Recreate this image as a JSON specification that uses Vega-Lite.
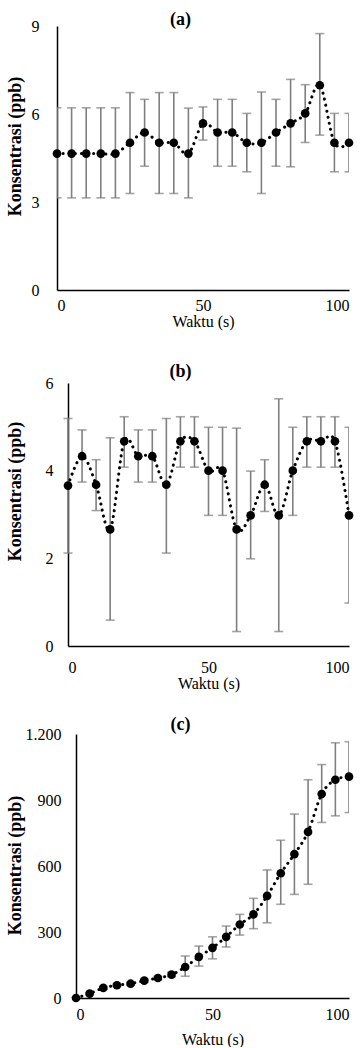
{
  "$schema": "https://vega.github.io/schema/vega-lite/v6.json",
  "padding": {"left": 6, "top": 11, "right": 2, "bottom": 0},
  "spacing": 25,
  "config": {
    "view": {"stroke": null},
    "font": "Liberation Serif",
    "axis": {"grid": false, "ticks": false, "domainColor": "#000", "domainWidth": 1.5, "labelFont": "Liberation Serif", "labelFontSize": 16, "labelColor": "#000", "titleFont": "Liberation Serif", "titleColor": "#000"},
    "axisX": {"titleFontWeight": "normal", "titleFontSize": 16},
    "axisY": {"titleFontWeight": "bold", "titleFontSize": 18},
    "title": {"font": "Liberation Serif", "fontSize": 18, "fontWeight": "bold", "color": "#000", "anchor": "middle", "frame": "bounds"}
  },
  "datasets": {
    "a": [
      {"t": 0, "v": 4.65, "lo": 3.14, "hi": 6.21},
      {"t": 5, "v": 4.65, "lo": 3.14, "hi": 6.21},
      {"t": 10, "v": 4.65, "lo": 3.14, "hi": 6.21},
      {"t": 15, "v": 4.65, "lo": 3.14, "hi": 6.21},
      {"t": 20, "v": 4.65, "lo": 3.14, "hi": 6.21},
      {"t": 25, "v": 5.02, "lo": 3.29, "hi": 6.73},
      {"t": 30, "v": 5.37, "lo": 4.22, "hi": 6.5},
      {"t": 35, "v": 5.02, "lo": 3.29, "hi": 6.73},
      {"t": 40, "v": 5.02, "lo": 3.29, "hi": 6.73},
      {"t": 45, "v": 4.65, "lo": 3.14, "hi": 6.2},
      {"t": 50, "v": 5.68, "lo": 5.11, "hi": 6.24},
      {"t": 55, "v": 5.37, "lo": 4.22, "hi": 6.5},
      {"t": 60, "v": 5.37, "lo": 4.22, "hi": 6.5},
      {"t": 65, "v": 5.02, "lo": 4.03, "hi": 6.02},
      {"t": 70, "v": 5.02, "lo": 3.29, "hi": 6.75},
      {"t": 75, "v": 5.37, "lo": 4.22, "hi": 6.5},
      {"t": 80, "v": 5.68, "lo": 4.2, "hi": 7.18},
      {"t": 85, "v": 6.02, "lo": 5.03, "hi": 7.0},
      {"t": 90, "v": 6.98, "lo": 5.28, "hi": 8.74},
      {"t": 95, "v": 5.02, "lo": 4.03, "hi": 6.02},
      {"t": 100, "v": 5.02, "lo": 4.03, "hi": 6.02}
    ],
    "b": [
      {"t": 0, "v": 3.66, "lo": 2.12, "hi": 5.19},
      {"t": 5, "v": 4.33, "lo": 3.74, "hi": 4.93},
      {"t": 10, "v": 3.68, "lo": 3.09, "hi": 4.25},
      {"t": 15, "v": 2.66, "lo": 0.59, "hi": 4.75},
      {"t": 20, "v": 4.67, "lo": 4.08, "hi": 5.23},
      {"t": 25, "v": 4.33, "lo": 3.74, "hi": 4.93},
      {"t": 30, "v": 4.33, "lo": 3.74, "hi": 4.93},
      {"t": 35, "v": 3.68, "lo": 2.12, "hi": 5.19},
      {"t": 40, "v": 4.67, "lo": 4.08, "hi": 5.23},
      {"t": 45, "v": 4.67, "lo": 4.08, "hi": 5.23},
      {"t": 50, "v": 4.0, "lo": 2.98, "hi": 4.99},
      {"t": 55, "v": 4.0, "lo": 2.98, "hi": 4.99},
      {"t": 60, "v": 2.66, "lo": 0.33, "hi": 4.97},
      {"t": 65, "v": 2.98, "lo": 1.99, "hi": 3.99},
      {"t": 70, "v": 3.68, "lo": 3.07, "hi": 4.25},
      {"t": 75, "v": 2.98, "lo": 0.33, "hi": 5.64},
      {"t": 80, "v": 4.0, "lo": 2.98, "hi": 4.99},
      {"t": 85, "v": 4.67, "lo": 4.08, "hi": 5.23},
      {"t": 90, "v": 4.67, "lo": 4.08, "hi": 5.23},
      {"t": 95, "v": 4.67, "lo": 4.08, "hi": 5.23},
      {"t": 100, "v": 2.98, "lo": 0.98, "hi": 4.99}
    ],
    "c": [
      {"t": 0, "v": 0, "lo": 0, "hi": 0},
      {"t": 5, "v": 20, "lo": 15, "hi": 25},
      {"t": 10, "v": 46, "lo": 40, "hi": 52},
      {"t": 15, "v": 58, "lo": 52, "hi": 64},
      {"t": 20, "v": 65, "lo": 58, "hi": 72},
      {"t": 25, "v": 79, "lo": 72, "hi": 86},
      {"t": 30, "v": 91, "lo": 83, "hi": 99},
      {"t": 35, "v": 106, "lo": 96, "hi": 116},
      {"t": 40, "v": 141, "lo": 99, "hi": 191},
      {"t": 45, "v": 187, "lo": 145, "hi": 236},
      {"t": 50, "v": 228, "lo": 178, "hi": 278},
      {"t": 55, "v": 278, "lo": 232, "hi": 327},
      {"t": 60, "v": 334, "lo": 286, "hi": 380},
      {"t": 65, "v": 380, "lo": 315, "hi": 453},
      {"t": 70, "v": 464, "lo": 342, "hi": 582},
      {"t": 75, "v": 567, "lo": 426, "hi": 717},
      {"t": 80, "v": 654, "lo": 471, "hi": 836},
      {"t": 85, "v": 755, "lo": 517, "hi": 992},
      {"t": 90, "v": 927, "lo": 798, "hi": 1061},
      {"t": 95, "v": 992, "lo": 828, "hi": 1160},
      {"t": 100, "v": 1006, "lo": 843, "hi": 1165}
    ]
  },
  "vconcat": [
    {
      "spacing": 34,
      "vconcat": [
        {
          "title": {"text": "(a)", "offset": -11},
          "width": 292, "height": 264,
          "data": {"name": "a"},
          "encoding": {
            "x": {"field": "t", "type": "quantitative", "scale": {"domain": [0, 100], "nice": false}, "axis": {"values": [0, 50, 100], "title": "Waktu (s)", "labelPadding": 7, "titlePadding": 0}}
          },
          "layer": [
            {"mark": {"type": "rule", "color": "#7f7f7f", "strokeWidth": 1.6, "clip": true}, "encoding": {"y": {"field": "lo", "type": "quantitative", "title": "Konsentrasi (ppb)", "scale": {"domain": [0, 9], "nice": false}, "axis": {"values": [0, 3, 6, 9], "labelPadding": 18, "minExtent": 31, "maxExtent": 31, "titlePadding": 2, "titleY": 120}}, "y2": {"field": "hi"}}},
            {"mark": {"type": "tick", "orient": "horizontal", "color": "#7f7f7f", "size": 9, "thickness": 1.6, "clip": true}, "encoding": {"y": {"field": "lo", "type": "quantitative", "title": "Konsentrasi (ppb)"}}},
            {"mark": {"type": "tick", "orient": "horizontal", "color": "#7f7f7f", "size": 9, "thickness": 1.6, "clip": true}, "encoding": {"y": {"field": "hi", "type": "quantitative", "title": "Konsentrasi (ppb)"}}},
            {"mark": {"type": "line", "color": "#000", "strokeWidth": 3, "strokeDash": [0.1, 6], "strokeCap": "round", "interpolate": "cardinal"}, "encoding": {"y": {"field": "v", "type": "quantitative", "title": "Konsentrasi (ppb)"}}},
            {"mark": {"type": "point", "filled": true, "color": "#000", "opacity": 1, "size": 75}, "encoding": {"y": {"field": "v", "type": "quantitative", "title": "Konsentrasi (ppb)"}}}
          ]
        },
        {
          "title": {"text": "(b)", "offset": -6},
          "width": 292, "height": 263,
          "data": {"name": "b"},
          "encoding": {
            "x": {"field": "t", "type": "quantitative", "scale": {"domain": [0, 100], "nice": false, "range": [11, 292]}, "axis": {"values": [0, 50, 100], "title": "Waktu (s)", "labelPadding": 13, "titlePadding": 0}}
          },
          "layer": [
            {"mark": {"type": "rule", "color": "#7f7f7f", "strokeWidth": 1.6, "clip": true}, "encoding": {"y": {"field": "lo", "type": "quantitative", "title": "Konsentrasi (ppb)", "scale": {"domain": [0, 6], "nice": false}, "axis": {"values": [0, 2, 4, 6], "offset": -11, "labelPadding": 15, "minExtent": 42, "maxExtent": 42, "titlePadding": 2, "titleY": 108}}, "y2": {"field": "hi"}}},
            {"mark": {"type": "tick", "orient": "horizontal", "color": "#7f7f7f", "size": 9, "thickness": 1.6, "clip": true}, "encoding": {"y": {"field": "lo", "type": "quantitative", "title": "Konsentrasi (ppb)"}}},
            {"mark": {"type": "tick", "orient": "horizontal", "color": "#7f7f7f", "size": 9, "thickness": 1.6, "clip": true}, "encoding": {"y": {"field": "hi", "type": "quantitative", "title": "Konsentrasi (ppb)"}}},
            {"mark": {"type": "line", "color": "#000", "strokeWidth": 3, "strokeDash": [0.1, 6], "strokeCap": "round", "interpolate": "cardinal"}, "encoding": {"y": {"field": "v", "type": "quantitative", "title": "Konsentrasi (ppb)"}}},
            {"mark": {"type": "point", "filled": true, "color": "#000", "opacity": 1, "size": 75}, "encoding": {"y": {"field": "v", "type": "quantitative", "title": "Konsentrasi (ppb)"}}}
          ]
        }
      ]
    },
    {
      "title": {"text": "(c)", "offset": -8},
      "width": 292, "height": 264,
      "data": {"name": "c"},
      "encoding": {
        "x": {"field": "t", "type": "quantitative", "scale": {"domain": [0, 100], "nice": false, "range": [19, 292]}, "axis": {"values": [0, 50, 100], "title": "Waktu (s)", "labelPadding": 8, "titlePadding": 9}}
      },
      "layer": [
        {"mark": {"type": "rule", "color": "#7f7f7f", "strokeWidth": 1.6, "clip": true}, "encoding": {"y": {"field": "lo", "type": "quantitative", "title": "Konsentrasi (ppb)", "scale": {"domain": [0, 1200], "nice": false}, "axis": {"values": [0, 300, 600, 900, 1200], "labelExpr": "replace(format(datum.value, ','), ',', '.')", "offset": -19, "labelPadding": 15, "minExtent": 50, "maxExtent": 50, "titlePadding": 2, "titleY": 131}}, "y2": {"field": "hi"}}},
        {"mark": {"type": "tick", "orient": "horizontal", "color": "#7f7f7f", "size": 9, "thickness": 1.6, "clip": true}, "encoding": {"y": {"field": "lo", "type": "quantitative", "title": "Konsentrasi (ppb)"}}},
        {"mark": {"type": "tick", "orient": "horizontal", "color": "#7f7f7f", "size": 9, "thickness": 1.6, "clip": true}, "encoding": {"y": {"field": "hi", "type": "quantitative", "title": "Konsentrasi (ppb)"}}},
        {"mark": {"type": "line", "color": "#000", "strokeWidth": 3, "strokeDash": [0.1, 6], "strokeCap": "round", "interpolate": "cardinal"}, "encoding": {"y": {"field": "v", "type": "quantitative", "title": "Konsentrasi (ppb)"}}},
        {"mark": {"type": "point", "filled": true, "color": "#000", "opacity": 1, "size": 75}, "encoding": {"y": {"field": "v", "type": "quantitative", "title": "Konsentrasi (ppb)"}}}
      ]
    }
  ]
}
